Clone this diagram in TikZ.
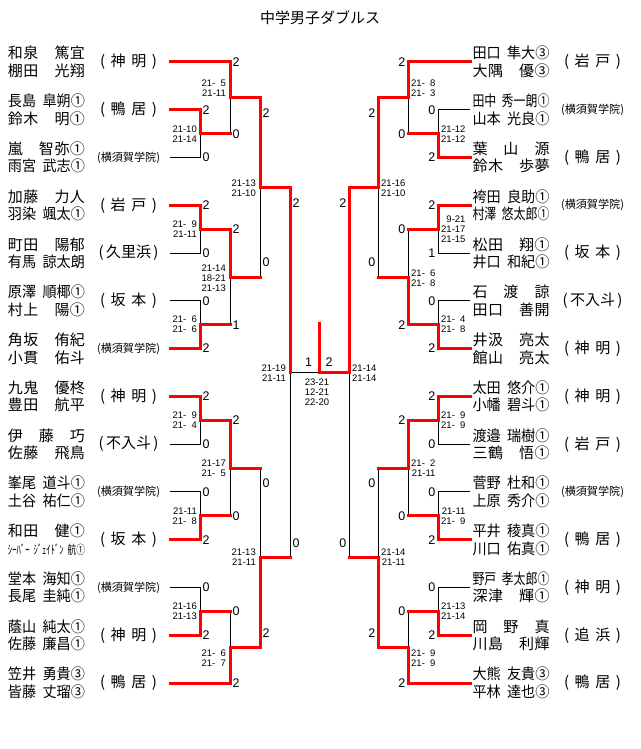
\documentclass[tikz,border=0pt]{standalone}
\usepackage{fontspec}
\usepackage{graphicx}
\setmainfont{Noto Sans CJK JP}
\newfontfamily\num{Liberation Sans}
\usepackage{tikz}

\def\distA#1{\ifx\relax#1\else#1\expandafter\distB\fi}
\def\distB#1{\ifx\relax#1\else\hfil#1\expandafter\distB\fi}
\newcommand\zsp{\hbox to 1em{}}
\newcommand\nm[1]{{\spaceskip=.45em\setbox0\hbox{\expandafter\distA#1\relax}%
  \ifdim\wd0>77pt\resizebox{77pt}{\height}{\box0}\else\hbox to 77pt{\unhbox0}\fi}}
\newcommand\kata{\resizebox{77pt}{10.5pt}{ｼｰﾊﾞｰ ｼﾞｪｲﾄﾞﾝ 航①}}
\newcommand\schA[2]{\makebox[57pt][s]{(\hfill#1\hfill#2\hfill)}}
\newcommand\schB[1]{\makebox[60pt][s]{(\hfill#1\hfill)}}
\newcommand\schC{\resizebox{63pt}{!}{(横須賀学院)}}
\newcommand\nsp{\phantom{0}}

\begin{document}
\begin{tikzpicture}[x=1pt,y=-1pt,
  win/.style={red,line width=3pt,line cap=rect},
  lose/.style={black,line width=1pt},
  pl/.style={font=\fontsize{15}{17.5}\selectfont,align=center,inner sep=0pt},
  club/.style={font=\fontsize{15}{17.5}\selectfont,inner sep=0pt},
  sc/.style={font=\num\fontsize{12.5}{13}\selectfont,inner sep=0pt},
  gm/.style={font=\num\fontsize{9.5}{10}\selectfont,inner sep=0pt,align=right}]
\useasboundingbox (0,0) rectangle (640,749);
\node[club] (title) at (320,18) {中学男子ダブルス};

\foreach \i/\na/\nb/\sn [evaluate=\i as \yy using 62+(\i-1)*47.77] in {
  1/和泉\zsp 篤宜/棚田\zsp 光翔/\schA{神}{明},
  2/長島~皐朔①/鈴木\zsp 明①/\schA{鴨}{居},
  3/嵐\zsp 智弥①/雨宮~武志①/\schC,
  4/加藤\zsp 力人/羽染~颯太①/\schA{岩}{戸},
  5/町田\zsp 陽郁/有馬~諒太朗/\schB{久里浜},
  6/原澤~順椰①/村上\zsp 陽①/\schA{坂}{本},
  7/角坂\zsp 侑紀/小貫\zsp 佑斗/\schC,
  8/九鬼\zsp 優柊/豊田\zsp 航平/\schA{神}{明},
  9/伊\zsp 藤\zsp 巧/佐藤\zsp 飛鳥/\schB{不入斗},
  10/峯尾~道斗①/土谷~祐仁①/\schC,
  11/和田\zsp 健①/\kata/\schA{坂}{本},
  12/堂本~海知①/長尾~圭純①/\schC,
  13/蔭山~純太①/佐藤~廉昌①/\schA{神}{明},
  14/笠井~勇貴③/皆藤~丈瑠③/\schA{鴨}{居}}{
  \coordinate (l\i) at (170,\yy);
  \node[pl] (ln\i) at (46.5,\yy) {\nm{\na}\\\nm{\nb}};
  \node[club] (lc\i) at (128.5,\yy) {\sn};
}
\foreach \i/\na/\nb/\sn [evaluate=\i as \yy using 62+(\i-1)*47.77] in {
  1/田口~隼大③/大隅\zsp 優③/\schA{岩}{戸},
  2/田中~秀一朗①/山本~光良①/\schC,
  3/葉\zsp 山\zsp 源/鈴木\zsp 歩夢/\schA{鴨}{居},
  4/袴田~良助①/村澤~悠太郎①/\schC,
  5/松田\zsp 翔①/井口~和紀①/\schA{坂}{本},
  6/石\zsp 渡\zsp 諒/田口\zsp 善開/\schB{不入斗},
  7/井汲\zsp 亮太/館山\zsp 亮太/\schA{神}{明},
  8/太田~悠介①/小幡~碧斗①/\schA{神}{明},
  9/渡邉~瑞樹①/三鶴\zsp 悟①/\schA{岩}{戸},
  10/菅野~杜和①/上原~秀介①/\schC,
  11/平井~稜真①/川口~佑真①/\schA{鴨}{居},
  12/野戸~孝太郎①/深津\zsp 輝①/\schA{神}{明},
  13/岡\zsp 野\zsp 真/川島\zsp 利輝/\schA{追}{浜},
  14/大熊~友貴③/平林~達也③/\schA{鴨}{居}}{
  \coordinate (r\i) at (470,\yy);
  \node[pl] (rn\i) at (511,\yy) {\nm{\na}\\\nm{\nb}};
  \node[club] (rc\i) at (592.5,\yy) {\sn};
}

\foreach \n/\x/\rx/\y in {A/200/438/133.7, B/200/438/229.2, C/200/438/324.7,
  D/200/438/420.3, E/200/438/515.8, F/200/438/611.4, G/230/408/97.8,
  H/230/408/277, I/230/408/468, J/230/408/647.2, K/260/378/187.4,
  L/260/378/557.6, S/290/349/372.5}
  {\coordinate (l\n) at (\x,\y); \coordinate (r\n) at (\rx,\y);}
\coordinate (fin) at (319.5,372.5);
\coordinate (top) at (319.5,323);

\draw[lose] (l3) -| (lA) (l5) -| (lB) (l6) -| (lC) (l9) -| (lD) (l10) -| (lE) (l12) -| (lF)
  (lA -| lG) -- (lG) (lC -| lH) -- (lH) (lE -| lI) -- (lI) (lF -| lJ) -- (lJ)
  (lH -| lK) -- (lK) (lI -| lL) -- (lL) (lL -| lS) -- (lS) (lS) -- (fin);
\draw[lose] (r2) -| (rA) (r5) -| (rB) (r6) -| (rC) (r9) -| (rD) (r10) -| (rE) (r12) -| (rF)
  (rA -| rG) -- (rG) (rB -| rH) -- (rH) (rE -| rI) -- (rI) (rF -| rJ) -- (rJ)
  (rH -| rK) -- (rK) (rI -| rL) -- (rL) (rL -| rS) -- (rS);

\draw[win] (l2) -| (lA) -- (lA -| lG);
\draw[win] (l4) -| (lB) -- (lB -| lH);
\draw[win] (l7) -| (lC) -- (lC -| lH);
\draw[win] (l8) -| (lD) -- (lD -| lI);
\draw[win] (l11) -| (lE) -- (lE -| lI);
\draw[win] (l13) -| (lF) -- (lF -| lJ);
\draw[win] (l1) -| (lG) -- (lG -| lK);
\draw[win] (lB -| lH) -- (lH) -- (lH -| lK);
\draw[win] (lD -| lI) -- (lI) -- (lI -| lL);
\draw[win] (l14) -| (lJ) -- (lJ -| lL);
\draw[win] (lG -| lK) -- (lK) -- (lK -| lS);
\draw[win] (lJ -| lL) -- (lL) -- (lL -| lS);
\draw[win] (lK -| lS) -- (lS);
\draw[win] (r3) -| (rA) -- (rA -| rG);
\draw[win] (r4) -| (rB) -- (rB -| rH);
\draw[win] (r7) -| (rC) -- (rC -| rH);
\draw[win] (r8) -| (rD) -- (rD -| rI);
\draw[win] (r11) -| (rE) -- (rE -| rI);
\draw[win] (r13) -| (rF) -- (rF -| rJ);
\draw[win] (r1) -| (rG) -- (rG -| rK);
\draw[win] (rC -| rH) -- (rH) -- (rH -| rK);
\draw[win] (rD -| rI) -- (rI) -- (rI -| rL);
\draw[win] (r14) -| (rJ) -- (rJ -| rL);
\draw[win] (rG -| rK) -- (rK) -- (rK -| rS);
\draw[win] (rJ -| rL) -- (rL) -- (rL -| rS);
\draw[win] (rK -| rS) -- (rS);
\draw[win] (rS) -- (fin) -- (top);

\foreach \x/\y/\v [count=\k] in {202.5/109.8/2, 202.5/157.5/0, 202.5/205.3/2,
  202.5/253.1/0, 202.5/300.9/0, 202.5/348.6/2, 202.5/396.4/2, 202.5/444.2/0,
  202.5/491.9/0, 202.5/539.7/2, 202.5/587.5/0, 202.5/635.2/2,
  232.5/62/2, 232.5/133.7/0, 232.5/229.2/2, 232.5/324.7/1, 232.5/420.3/2,
  232.5/515.8/0, 232.5/611.4/0, 232.5/683/2,
  262.5/113/2, 262.5/262/0, 262.5/483/0, 262.5/633/2, 292.5/203/2, 292.5/543/0}
  \node[sc,anchor=west] (lsc\k) at (\x,\y) {\v};
\foreach \x/\y/\v [count=\k] in {435.5/109.8/0, 435.5/157.5/2, 435.5/205.3/2,
  435.5/253.1/1, 435.5/300.9/0, 435.5/348.6/2, 435.5/396.4/2, 435.5/444.2/0,
  435.5/491.9/0, 435.5/539.7/2, 435.5/587.5/0, 435.5/635.2/2,
  405.5/62/2, 405.5/133.7/0, 405.5/229.2/0, 405.5/324.7/2, 405.5/420.3/2,
  405.5/515.8/0, 405.5/611.4/0, 405.5/683/2,
  375.5/113/2, 375.5/262/0, 375.5/483/0, 375.5/633/2, 346.5/203/2, 346.5/543/0}
  \node[sc,anchor=east] (rsc\k) at (\x,\y) {\v};

\foreach \x/\y/\v [count=\k] in {197/133.7/{21-10\\21-14}, 197/229.2/{21-\nsp9\\21-11},
  197/324.7/{21-\nsp6\\21-\nsp6}, 197/420.3/{21-\nsp9\\21-\nsp4},
  197/515.8/{21-11\\21-\nsp8}, 197/611.4/{21-16\\21-13},
  226/88/{21-\nsp5\\21-11}, 226/278/{21-14\\18-21\\21-13},
  226/468/{21-17\\21-\nsp5}, 226/658/{21-\nsp6\\21-\nsp7},
  256/188/{21-13\\21-10}, 256/557.6/{21-13\\21-11}, 286/373/{21-19\\21-11}}
  \node[gm,anchor=east] (lg\k) at (\x,\y) {\v};
\foreach \x/\y/\v [count=\k] in {441/133.7/{21-12\\21-12}, 441/229.2/{9-21\\21-17\\21-15},
  441/324.7/{21-\nsp4\\21-\nsp8}, 441/420.3/{21-\nsp9\\21-\nsp9},
  441/515.8/{21-11\\21-\nsp9}, 441/611.4/{21-13\\21-14},
  411/88/{21-\nsp8\\21-\nsp3}, 411/278/{21-\nsp6\\21-\nsp8},
  411/468/{21-\nsp2\\21-11}, 411/658/{21-\nsp9\\21-\nsp9},
  381/188/{21-16\\21-10}, 381/557.6/{21-14\\21-11}, 352/373/{21-14\\21-14}}
  \node[gm,anchor=west] (rg\k) at (\x,\y) {\v};

\node[sc] (f1) at (308.5,362) {1};
\node[sc] (f2) at (329,362) {2};
\node[gm,align=center] (fg) at (317,392) {23-21\\12-21\\22-20};
\end{tikzpicture}
\end{document}
